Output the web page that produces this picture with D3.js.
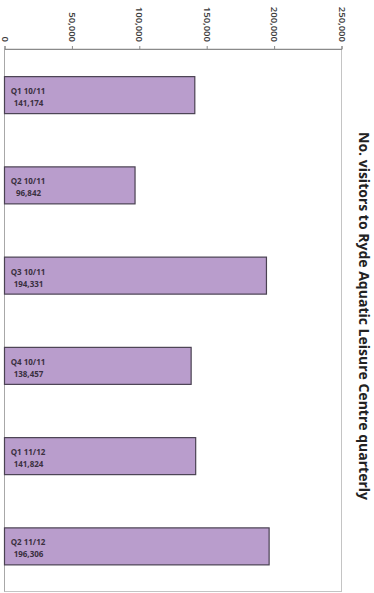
<!DOCTYPE html>
<html><head><meta charset="utf-8">
<script src="https://cdn.jsdelivr.net/npm/d3@7"></script>
<style>html,body{margin:0;padding:0;background:#fff;}svg{display:block;}</style>
</head><body>
<svg id="c" width="374" height="593"></svg>
<script>
const categories = ["Q1 10/11","Q2 10/11","Q3 10/11","Q4 10/11","Q1 11/12","Q2 11/12"];
const visitors = [141174, 96842, 194331, 138457, 141824, 196306];
const tickValues = [0, 50000, 100000, 150000, 200000, 250000];
const title = "No. visitors to Ryde Aquatic Leisure Centre quarterly";

const svg = d3.select("#c");
const pLeft = 4.5, pRight = 341.5, pTop = 49, pBottom = 591.5;

const x = d3.scaleLinear().domain([0, 250000]).range([pLeft, pRight]);
const y = d3.scaleBand().domain(categories).range([pTop + 1, pBottom]).paddingInner(0.59).paddingOuter(0.295);

// frame
svg.append("rect").attr("x", pLeft).attr("y", pTop).attr("width", pRight - pLeft).attr("height", pBottom - pTop)
  .attr("fill", "none").attr("stroke", "#c4c4c4").attr("stroke-width", 1);
svg.append("line").attr("x1", pLeft).attr("x2", pLeft).attr("y1", pTop).attr("y2", pBottom)
  .attr("stroke", "#a8a8a8");

// axis
const axis = d3.axisTop(x).tickValues(tickValues).tickSize(3).tickPadding(0)
  .tickFormat(d => d3.format(",")(d));
const g = svg.append("g").attr("transform", `translate(0,${pTop})`).call(axis);
g.select(".domain").attr("stroke", "#8a8a8a");
g.selectAll(".tick line").attr("stroke", "#8a8a8a").attr("y2", -3);
g.selectAll(".tick text")
  .attr("transform", "translate(0,-7) rotate(90)")
  .attr("x", 0).attr("y", 0).attr("dy", "0.35em")
  .attr("text-anchor", "end")
  .attr("font-family", "Open Sans").attr("font-weight", "600").attr("font-size", "9.5px").attr("fill", "#3a3a3a");

// bars
const bars = svg.append("g").selectAll("g").data(categories).join("g");
bars.append("rect")
  .attr("x", pLeft)
  .attr("y", d => y(d))
  .attr("width", (d, i) => x(visitors[i]) - pLeft)
  .attr("height", y.bandwidth())
  .attr("fill", "#b99dcc").attr("stroke", "#4a4252").attr("stroke-width", 1.2);
const lbl = bars.append("text")
  .attr("font-family", "Open Sans").attr("font-weight", "bold").attr("font-size", "8px")
  .attr("fill", "#3a3040").attr("text-anchor", "middle");
lbl.append("tspan").attr("x", 28).attr("y", d => y(d) + 17.5).text(d => d);
lbl.append("tspan").attr("x", 28.5).attr("y", d => y(d) + 29.5).text((d, i) => d3.format(",")(visitors[i]));

// title
svg.append("text")
  .attr("transform", "translate(358.5,316) rotate(90)")
  .attr("text-anchor", "middle")
  .attr("font-family", "Open Sans").attr("font-weight", "bold").attr("font-size", "14px")
  .attr("fill", "#222").text(title);
</script>
</body></html>
